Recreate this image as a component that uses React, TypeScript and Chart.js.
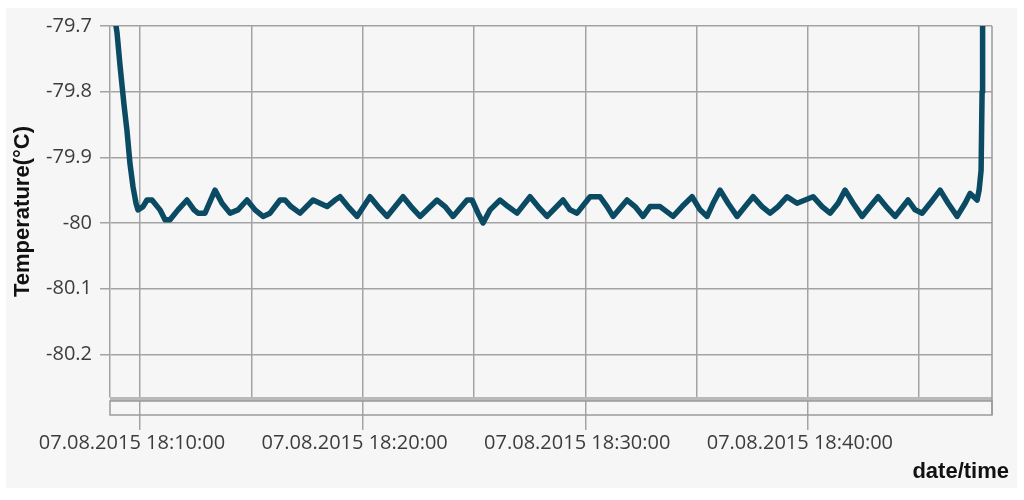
import React, { useEffect, useRef } from "react";
import { Chart, registerables } from "chart.js";

Chart.register(...registerables);

// minutes after 18:00 on 07.08.2015
const TIME_MIN = [8.832, 8.967, 9.102, 9.281, 9.416, 9.551, 9.686, 9.820, 9.910, 10.135, 10.314, 10.539, 10.898, 11.123, 11.348, 11.707, 12.111, 12.426, 12.605, 12.920, 13.369, 13.684, 14.043, 14.402, 14.807, 15.166, 15.526, 15.840, 16.289, 16.514, 16.783, 17.188, 17.772, 18.086, 18.401, 18.760, 18.985, 19.344, 19.748, 20.332, 20.692, 21.096, 21.815, 22.174, 22.579, 23.342, 23.702, 24.061, 24.690, 24.915, 25.184, 25.409, 25.723, 26.173, 26.532, 26.936, 27.520, 27.880, 28.284, 29.003, 29.317, 29.632, 30.216, 30.665, 30.980, 31.249, 31.878, 32.237, 32.597, 32.911, 33.360, 33.944, 34.349, 34.798, 35.157, 35.472, 35.741, 36.056, 36.415, 36.819, 37.179, 37.538, 37.942, 38.302, 38.661, 39.066, 39.515, 39.874, 40.234, 40.638, 40.997, 41.357, 41.671, 42.031, 42.435, 42.794, 43.154, 43.513, 43.917, 44.501, 44.816, 45.130, 45.490, 45.939, 46.299, 46.703, 47.062, 47.286, 47.601, 47.691, 47.780, 47.825, 47.848];

const TEMP = [-79.68, -79.71, -79.76, -79.82, -79.86, -79.91, -79.945, -79.97, -79.98, -79.975, -79.965, -79.965, -79.98, -79.995, -79.995, -79.98, -79.965, -79.98, -79.985, -79.985, -79.95, -79.97, -79.985, -79.98, -79.965, -79.98, -79.99, -79.985, -79.965, -79.965, -79.975, -79.985, -79.965, -79.97, -79.975, -79.965, -79.96, -79.975, -79.99, -79.96, -79.975, -79.99, -79.96, -79.975, -79.99, -79.965, -79.975, -79.99, -79.965, -79.965, -79.985, -80.0, -79.98, -79.965, -79.975, -79.985, -79.96, -79.975, -79.99, -79.965, -79.98, -79.985, -79.96, -79.96, -79.975, -79.99, -79.965, -79.975, -79.99, -79.975, -79.975, -79.99, -79.975, -79.96, -79.98, -79.99, -79.97, -79.95, -79.97, -79.99, -79.975, -79.96, -79.975, -79.985, -79.975, -79.96, -79.97, -79.965, -79.96, -79.975, -79.985, -79.97, -79.95, -79.97, -79.99, -79.975, -79.96, -79.975, -79.99, -79.965, -79.98, -79.985, -79.97, -79.95, -79.97, -79.99, -79.97, -79.955, -79.965, -79.95, -79.92, -79.80, -79.68];

const X_TICKS_MIN = [10, 15, 20, 25, 30, 35, 40, 45];
const X_LABELED_MIN = [10, 20, 30, 40];
const DATE_PREFIX = "07.08.2015";
const HOUR = 18;
const X_MIN = 8.652;
const X_MAX = 48.27;

const Y_TICKS = [-80.2, -80.1, -80, -79.9, -79.8, -79.7];
const Y_MIN = -80.265;
const Y_MAX = -79.7;

const Y_TITLE = "Temperature(°C)";
const X_TITLE = "date/time";

const LINE_COLOR = "#0a4a62";
const GRID_COLOR = "#a3a3a3";
const TICK_FONT = "'Open Sans', 'Noto Sans', sans-serif";
const TITLE_FONT = "'Liberation Sans', Arial, sans-serif";

function fmtTime(m: number): string {
  const totalSec = Math.round(m * 60);
  const hh = HOUR + Math.floor(totalSec / 3600);
  const mm = Math.floor((totalSec % 3600) / 60);
  const ss = totalSec % 60;
  const p = (n: number) => String(n).padStart(2, "0");
  return `${DATE_PREFIX} ${p(hh)}:${p(mm)}:${p(ss)}`;
}

const framePlugin = {
  id: "frame",
  beforeDatasetsDraw(chart: any) {
    const { ctx, chartArea } = chart;
    const { left, right, top, bottom } = chartArea;
    ctx.save();
    // gray band under plot
    ctx.fillStyle = "#b9b9b9";
    ctx.fillRect(left, bottom, right - left, 4);
    // scrollbar-like box
    ctx.strokeStyle = "#9a9a9a";
    ctx.lineWidth = 1.5;
    ctx.strokeRect(left, bottom + 4, right - left, 14);
    // right border
    ctx.beginPath();
    ctx.moveTo(right, top);
    ctx.lineTo(right, bottom + 18);
    ctx.stroke();
    ctx.restore();
  },
  afterDraw(chart: any) {
    const { ctx } = chart;
    ctx.save();
    ctx.font = `bold 22px ${TITLE_FONT}`;
    ctx.fillStyle = "#111111";
    ctx.textAlign = "right";
    ctx.textBaseline = "middle";
    ctx.fillText(X_TITLE, 1009, 472);
    ctx.restore();
  },
};

export default function App() {
  const ref = useRef<HTMLCanvasElement | null>(null);

  useEffect(() => {
    if (!ref.current) return;
    const n = Math.min(TIME_MIN.length, TEMP.length);
    const points = [];
    for (let i = 0; i < n; i++) points.push({ x: TIME_MIN[i], y: TEMP[i] });

    const chart = new Chart(ref.current, {
      type: "line",
      data: {
        datasets: [
          {
            data: points,
            borderColor: LINE_COLOR,
            borderWidth: 5.5,
            pointRadius: 0,
            tension: 0,
            borderJoinStyle: "round",
            borderCapStyle: "round",
            clip: 0,
          } as any,
        ],
      },
      options: {
        animation: false,
        responsive: false,
        maintainAspectRatio: false,
        layout: { padding: { top: 26, right: 32, left: 0, bottom: 0 } },
        plugins: {
          legend: { display: false },
          tooltip: { enabled: false },
        },
        scales: {
          x: {
            type: "linear",
            min: X_MIN,
            max: X_MAX,
            afterBuildTicks: (scale: any) => {
              scale.ticks = X_TICKS_MIN.map((v) => ({ value: v }));
            },
            afterFit: (scale: any) => {
              scale.height = 103;
            },
            ticks: {
              autoSkip: false,
              maxRotation: 0,
              minRotation: 0,
              padding: 1,
              labelOffset: -8,
              color: "#3c3c3c",
              font: { family: TICK_FONT, size: 20 },
              callback: (v: any) =>
                X_LABELED_MIN.includes(Number(v)) ? fmtTime(Number(v)) : "",
            },
            grid: {
              color: GRID_COLOR,
              lineWidth: 1.5,
              tickLength: 33,
              tickWidth: 1.5,
              tickColor: (c: any) =>
                c.tick && X_LABELED_MIN.includes(c.tick.value)
                  ? GRID_COLOR
                  : "rgba(0,0,0,0)",
            },
            border: { display: false },
          },
          y: {
            type: "linear",
            min: Y_MIN,
            max: Y_MAX,
            afterBuildTicks: (scale: any) => {
              scale.ticks = Y_TICKS.map((v) => ({ value: v }));
            },
            afterFit: (scale: any) => {
              scale.width = 110;
            },
            ticks: {
              padding: 8,
              color: "#3c3c3c",
              font: { family: TICK_FONT, size: 20 },
              callback: (v: any) => String(Number(Number(v).toFixed(1))),
            },
            grid: {
              color: GRID_COLOR,
              lineWidth: 1.5,
              tickLength: 10,
            },
            border: { display: true, color: GRID_COLOR, width: 1.5 },
            title: {
              display: true,
              text: Y_TITLE,
              color: "#111111",
              font: { family: TITLE_FONT, size: 22, weight: "bold" },
              padding: { top: 10, bottom: 0 },
            },
          },
        },
      },
      plugins: [framePlugin],
    });
    return () => chart.destroy();
  }, []);

  return (
    <div
      style={{
        position: "fixed",
        left: 0,
        top: 0,
        width: 1024,
        height: 500,
        background: "#ffffff",
        overflow: "hidden",
      }}
    >
      <div
        style={{
          position: "absolute",
          left: 6,
          top: 8,
          width: 1011,
          height: 480,
          background: "#f6f6f6",
        }}
      />
      <canvas
        ref={ref}
        width={1024}
        height={500}
        style={{ position: "absolute", left: 0, top: 0, width: 1024, height: 500 }}
      />
    </div>
  );
}
